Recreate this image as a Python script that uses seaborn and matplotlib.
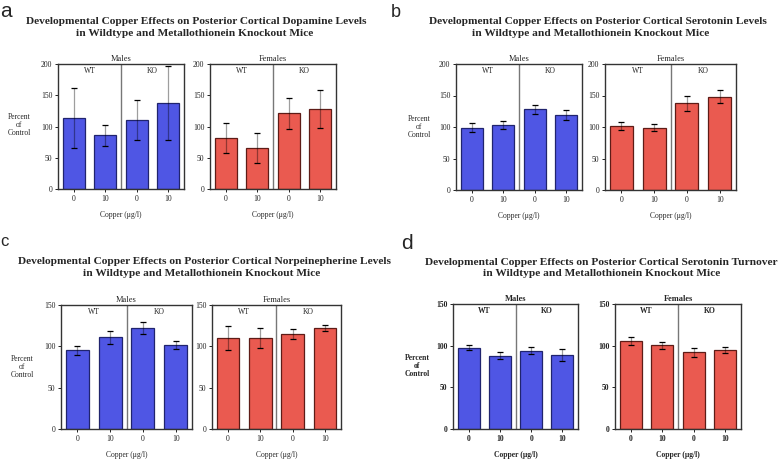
import pandas as pd
import matplotlib.pyplot as plt
import seaborn as sns

sns.set_style("ticks")
plt.rcParams['font.family'] = ['Liberation Serif', 'DejaVu Serif']

W, H = 778, 459

conds = ['WT 0', 'WT 10', 'KO 0', 'KO 10']
copper_labels = ['0', '10', '0', '10']
groups = ['WT', 'KO']

# a - dopamine
da_male = [114, 86, 111, 138]
da_male_err = [48, 17, 32, 59]
da_female = [82, 66, 121, 128]
da_female_err = [24, 24, 25, 31]

# b - serotonin
ht_male = [99, 103, 128, 119]
ht_male_err = [7, 6, 7, 8]
ht_female = [102, 99, 138, 148]
ht_female_err = [6, 5, 12, 10]

# c - norepinephrine
ne_male = [95, 111, 122, 102]
ne_male_err = [5, 8, 7, 5]
ne_female = [110, 110.5, 115, 122.5]
ne_female_err = [14.5, 12, 6, 3.5]

# d - serotonin turnover
to_male = [97.5, 88, 94, 89]
to_male_err = [3, 4, 4, 7]
to_female = [105.5, 100.5, 92, 95]
to_female_err = [5, 4, 5, 3.5]

titles = [
    ('Developmental Copper Effects on Posterior Cortical Dopamine Levels',
     'in Wildtype and Metallothionein Knockout Mice'),
    ('Developmental Copper Effects on Posterior Cortical Serotonin Levels',
     'in Wildtype and Metallothionein Knockout Mice'),
    ('Developmental Copper Effects on Posterior Cortical Norpeinepherine Levels',
     'in Wildtype and Metallothionein Knockout Mice'),
    ('Developmental Copper Effects on Posterior Cortical Serotonin Turnover',
     'in Wildtype and Metallothionein Knockout Mice'),
]

BLUE, BLUE_EDGE = '#4f56e4', '#20246e'
RED, RED_EDGE = '#ea5a50', '#5e1c17'


def px_axes(fig, l, t, r, b):
    return fig.add_axes([l / W, 1 - b / H, (r - l) / W, (b - t) / H])


def draw(ax, vals, errs, color, edge, ymax, sex, bold=False):
    fw = 'bold' if bold else 'normal'
    df = pd.DataFrame({'cond': conds, 'value': vals})
    sns.barplot(data=df, x='cond', y='value', color=color, edgecolor=edge,
                linewidth=0.9, width=0.7, saturation=1, errorbar=None, ax=ax)
    x = list(range(len(vals)))
    ax.errorbar(x, vals, yerr=errs, fmt='none', ecolor='black', alpha=0.38, elinewidth=0.9)
    ax.errorbar(x, vals, yerr=errs, fmt='none', ecolor='black', elinewidth=0,
                capsize=2.2, capthick=0.9)
    ax.axvline(1.5, color='#777777', lw=1, zorder=0)
    ax.set_xlim(-0.5, 3.5)
    ax.set_ylim(0, ymax)
    ax.set_yticks(range(0, ymax + 1, 50))
    ax.set_xticks(x)
    ax.set_xticklabels(copper_labels, fontsize=5.5, fontweight=fw)
    ax.set_yticklabels([str(v) for v in range(0, ymax + 1, 50)], fontsize=5.5, fontweight=fw)
    ax.tick_params(length=2.5, width=0.7, pad=1.5, colors='#222222')
    for s in ax.spines.values():
        s.set_color('#333333')
        s.set_linewidth(1)
    ax.set_ylabel('')
    ax.set_xlabel('Copper (μg/l)', fontsize=5.5, fontweight=fw, labelpad=6)
    ax.set_title(sex, fontsize=6, fontweight=fw, pad=2)
    for i, g in enumerate(groups):
        ax.text(0.5 + 2 * i, ymax * 0.975, g, ha='center', va='top',
                fontsize=5.5, fontweight=fw)


fig = plt.figure(figsize=(W / 100, H / 100), dpi=100)

panels = [
    # letter, letter pos, letter size, title centers, ylabel pos, axes boxes, data, ymax, bold
    ('a', (0, 17), 15, [(196, 21), (195, 33)], (19, 125),
     [(58, 64, 184, 189), (210, 64, 336, 189)],
     [(da_male, da_male_err), (da_female, da_female_err)], 200, False),
    ('b', (391, 17), 13, [(598, 21.5), (591, 33.5)], (419, 127),
     [(456, 64, 582, 190), (605, 64, 736, 190)],
     [(ht_male, ht_male_err), (ht_female, ht_female_err)], 200, False),
    ('c', (0, 246), 12, [(205, 261.5), (202, 273)], (22, 367),
     [(61, 305, 192, 429), (212, 305, 341, 429)],
     [(ne_male, ne_male_err), (ne_female, ne_female_err)], 150, False),
    ('d', (401, 249), 15, [(601, 262.5), (602, 273.5)], (417, 366),
     [(453, 304, 578, 429), (615, 304, 741, 429)],
     [(to_male, to_male_err), (to_female, to_female_err)], 150, True),
]

for k, (letter, lpos, lsize, tpos, ypos, boxes, data, ymax, bold) in enumerate(panels):
    fw = 'bold' if bold else 'normal'
    fig.text(lpos[0] / W, 1 - lpos[1] / H, letter, fontsize=lsize,
             family='Liberation Sans', va='baseline', ha='left')
    for line, (cx, cy) in zip(titles[k], tpos):
        fig.text(cx / W, 1 - cy / H, line, fontsize=8.2, fontweight='bold',
                 ha='center', va='center')
    fig.text(ypos[0] / W, 1 - ypos[1] / H, 'Percent\nof\nControl', fontsize=5.5,
             fontweight=fw, ha='center', va='center', linespacing=1.05)
    for box, (vals, errs), sex, col, edge in zip(boxes, data, ['Males', 'Females'],
                                                [BLUE, RED], [BLUE_EDGE, RED_EDGE]):
        ax = px_axes(fig, *box)
        draw(ax, vals, errs, col, edge, ymax, sex, bold)

fig.savefig('out.png', dpi=100, facecolor='white')
